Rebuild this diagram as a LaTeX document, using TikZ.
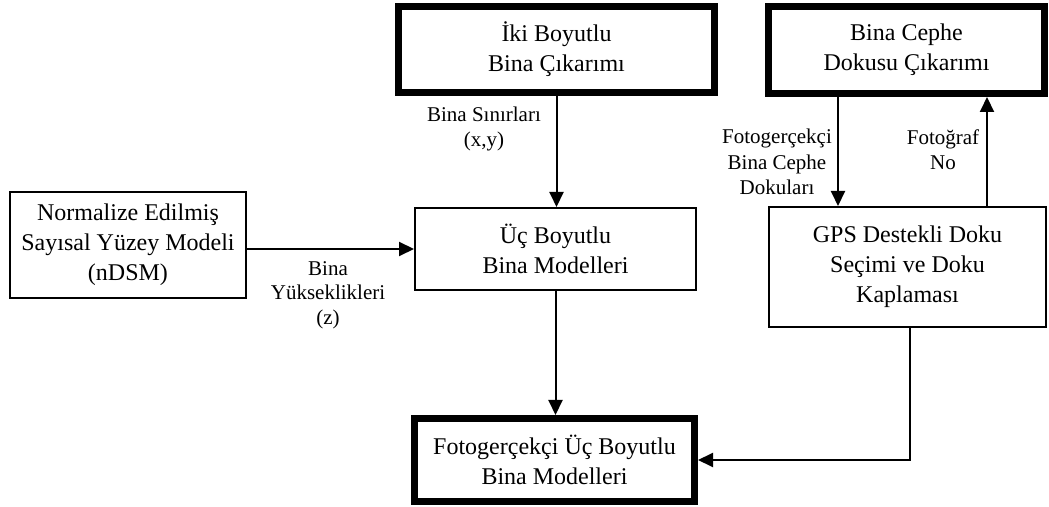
\documentclass[tikz,border=0pt]{standalone}
\usepackage{fontspec}
\setmainfont{Liberation Serif}
\usetikzlibrary{arrows.meta}
\begin{document}
\begin{tikzpicture}[x=0.5pt,y=-0.5pt,
  box/.style={draw,line width=1pt,inner sep=0pt,align=center,font=\fontsize{12}{15}\selectfont},
  thickbox/.style={box,line width=3.5pt},
  lab/.style={inner sep=0pt,align=center,font=\fontsize{10.5}{12.2}\selectfont},
  arr/.style={line width=1pt,-{Triangle[length=7.5pt,width=7pt]}}]
\useasboundingbox (0,0) rectangle (1049,507);
\node[thickbox,minimum width=158pt,minimum height=43pt] (b1) at (556.5,49.5) {İki Boyutlu\\Bina Çıkarımı};
\node[thickbox,minimum width=138pt,minimum height=43.5pt] (b2) at (906.5,50) {Bina Cephe\\Dokusu Çıkarımı};
\node[box,minimum width=118pt,minimum height=53pt] (N) at (128,245) {Normalize Edilmiş\\Sayısal Yüzey Modeli\\(nDSM)};
\node[box,minimum width=140.5pt,minimum height=41pt] (U) at (555.5,249) {Üç Boyutlu\\Bina Modelleri};
\node[box,minimum width=138.5pt,minimum height=60pt] (G) at (907.5,267) {GPS Destekli Doku\\Seçimi ve Doku\\Kaplaması};
\node[thickbox,minimum width=140pt,minimum height=41.5pt] (F) at (554.5,460) {Fotogerçekçi Üç Boyutlu\\Bina Modelleri};
\coordinate (xa) at (838,0);
\coordinate (xb) at (987,0);
\coordinate (xr) at (910,0);
\draw[arr] (b1.south) -- (b1.south |- U.north);
\draw[arr] (N.east |- U.west) -- (U.west);
\draw[arr] (U.south) -- (U.south |- F.north);
\draw[arr] (b2.south -| xa) -- (G.north -| xa);
\draw[arr] (G.north -| xb) -- (b2.south -| xb);
\draw[arr] (G.south -| xr) |- (F.east);
\node[lab] (l1) at (484,129) {Bina Sınırları\\(x,y)};
\node[lab] (l2) at (328,295) {Bina\\Yükseklikleri\\(z)};
\node[lab,font=\fontsize{10.5}{12.6}\selectfont] (l3) at (777,162) {Fotogerçekçi\\Bina Cephe\\Dokuları};
\node[lab,font=\fontsize{10.5}{12.6}\selectfont] (l4) at (943,150) {Fotoğraf\\No};
\end{tikzpicture}
\end{document}
